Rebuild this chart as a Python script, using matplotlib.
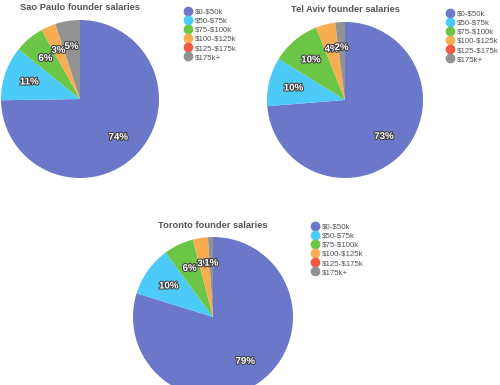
import matplotlib
matplotlib.use('Agg')
import matplotlib.pyplot as plt
import matplotlib.patheffects as pe
import numpy as np
from matplotlib.lines import Line2D

plt.rcParams['font.family'] = ['Liberation Sans', 'DejaVu Sans']

W, H = 500, 385

brackets = [r'\$0-\$50k', r'\$50-\$75k', r'\$75-\$100k', r'\$100-\$125k', r'\$125-\$175k', r'\$175k+']
colors = ['#6b77c9', '#4ccbf8', '#6cc646', '#f8ad52', '#ef5b3d', '#929292']

sao_paulo = [74, 11, 6, 3, 0, 5]
tel_aviv = [73, 10, 10, 4, 0, 2]
toronto = [79, 10, 6, 3, 0, 1]

# (title, values, pie centre x, centre y, radius, legend x, legend y) in pixels
charts = [
    ('Sao Paulo founder salaries', sao_paulo, 80, 99, 79, 184, 8),
    ('Tel Aviv founder salaries', tel_aviv, 345, 100, 78, 446, 10),
    ('Toronto founder salaries', toronto, 213, 317, 80, 311, 223),
]

fig = plt.figure(figsize=(W / 100, H / 100), dpi=100)
fig.patch.set_facecolor('white')


def pie_axes(cx, cy, r):
    return fig.add_axes([(cx - r) / W, 1 - (cy + r) / H, 2 * r / W, 2 * r / H])


for title, vals, cx, cy, r, lx, ly in charts:
    ax = pie_axes(cx, cy, r)
    wedges, _ = ax.pie(vals, colors=colors, startangle=90, counterclock=False,
                       wedgeprops=dict(linewidth=0))
    ax.set_xlim(-1, 1)
    ax.set_ylim(-1, 1)
    ax.set_aspect('equal')
    ax.axis('off')
    for w, v in zip(wedges, vals):
        if v == 0:
            continue
        ang = np.deg2rad((w.theta1 + w.theta2) / 2)
        ax.text(0.68 * np.cos(ang), 0.68 * np.sin(ang), f'{v}%', ha='center', va='center',
                color='white', fontsize=7, fontweight='bold',
                path_effects=[pe.withStroke(linewidth=1.6, foreground='#444444')])

    fig.text(cx / W, 1 - (cy - r - 12) / H, title, ha='center', va='center',
             fontsize=6.7, fontweight='bold', color='#555555')

    handles = [Line2D([], [], marker='o', linestyle='', markersize=6, color=c) for c in colors]
    fig.legend(handles, brackets, loc='upper left', bbox_to_anchor=(lx / W, 1 - ly / H),
               frameon=False, fontsize=5.7, labelcolor='#555555', handlelength=0.9,
               handletextpad=0.5, labelspacing=0.2, borderpad=0, borderaxespad=0)

fig.savefig('out.png', dpi=100)
